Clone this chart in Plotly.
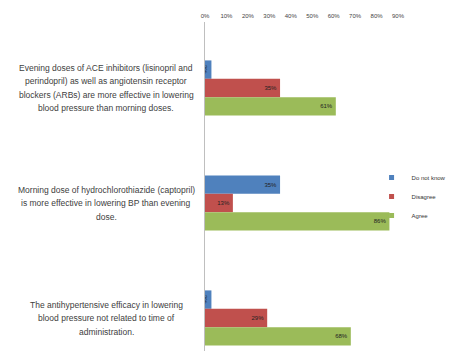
import plotly.graph_objects as go

categories = [
    "Evening doses of ACE inhibitors (lisinopril and<br>perindopril) as well as angiotensin receptor<br>blockers (ARBs) are more effective in lowering<br>blood pressure than morning doses.",
    "Morning dose of hydrochlorothiazide (captopril)<br>is more effective in lowering BP than evening<br>dose.",
    "The antihypertensive efficacy in lowering<br>blood pressure not related to time of<br>administration.",
]
series_names = ["Do not know", "Disagree", "Agree"]
do_not_know = [0.03, 0.35, 0.03]
disagree = [0.35, 0.13, 0.29]
agree = [0.61, 0.86, 0.68]
tick_vals = [0, 0.1, 0.2, 0.3, 0.4, 0.5, 0.6, 0.7, 0.8, 0.9]
tick_text = ["0%", "10%", "20%", "30%", "40%", "50%", "60%", "70%", "80%", "90%"]

colors = ["#4F81BD", "#C0504D", "#9BBB59"]
values = [do_not_know, disagree, agree]

cat_ids = [f"c{i}" for i in range(len(categories))]

# page has an 8px body margin; figure coords = page coords - 8
L, W = 197.0, 193.5

fig = go.Figure()
for name, vals, col in zip(series_names, values, colors):
    fig.add_trace(go.Bar(
        y=cat_ids, x=vals, name=name, orientation="h",
        marker=dict(color=col, line=dict(width=0)),
        text=[f"{round(v*100)}%" for v in vals],
        textposition="inside", insidetextanchor="end",
        textfont=dict(size=6, color="#222222"),
        constraintext="none", showlegend=False,
    ))
# legend entries with small square markers
for name, col in zip(series_names, colors):
    fig.add_trace(go.Scatter(
        x=[None], y=[None], mode="markers", name=name,
        marker=dict(symbol="square", size=5, color=col),
        showlegend=True,
    ))

annotations = []
for cid, label in zip(cat_ids, categories):
    lines = label.split("<br>")
    n = len(lines)
    for i, ln in enumerate(lines):
        annotations.append(dict(
            x=(98 - L) / W, xref="paper", y=cid, yref="y",
            text=ln, showarrow=False, xanchor="center",
            yshift=((n - 1) / 2 - i) * 13.5,
            font=dict(size=8.5, color="#404040", family="Liberation Sans, Arial"),
        ))

fig.update_layout(
    width=447, height=343,
    margin=dict(l=L, r=447 - L - W, t=14, b=0, autoexpand=False),
    barmode="group", bargap=0.52, bargroupgap=0,
    plot_bgcolor="white", paper_bgcolor="white",
    font=dict(family="Liberation Sans, Arial", size=6, color="#404040"),
    showlegend=True,
    legend=dict(x=(364 - L) / W, y=(343 - 155) / 329, xanchor="left", yanchor="top",
                font=dict(size=6, color="#333333"), traceorder="normal",
                bgcolor="rgba(0,0,0,0)", itemwidth=30, tracegroupgap=0),
    annotations=annotations,
    xaxis=dict(side="top", range=[0, 0.9], tickvals=tick_vals, ticktext=tick_text,
               showgrid=False, zeroline=False, showline=False, ticks="",
               tickfont=dict(size=6, color="#444444"), automargin=False, ticklabelstandoff=2),
    yaxis=dict(range=[2.287, -0.574], showticklabels=False, showgrid=False, automargin=False,
               zeroline=False, showline=True, linecolor="#bfbfbf", linewidth=1, ticks=""),
)

fig.write_html("out.html")
